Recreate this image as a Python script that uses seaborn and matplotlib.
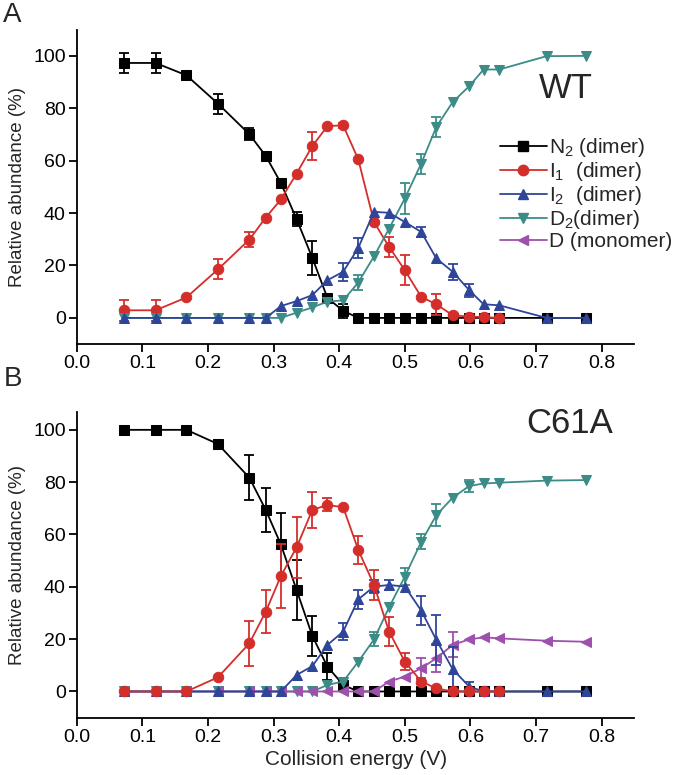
import numpy as np
import pandas as pd
import seaborn as sns
import matplotlib.pyplot as plt
from matplotlib.lines import Line2D

# collision energy (V)
energy = [0.072, 0.120, 0.167, 0.215, 0.263, 0.288, 0.311, 0.335, 0.359, 0.382, 0.406, 0.429,
          0.453, 0.476, 0.500, 0.525, 0.548, 0.573, 0.598, 0.620, 0.644, 0.716, 0.776]
energy_i1 = energy[:21]

# panel A - WT
wt_n2 = [97.3, 97.3, 92.6, 81.8, 70.1, 61.8, 51.5, 37.7, 22.9, 7.6, 2.7, 0, 0, 0, 0, 0, 0, 0, 0, 0, 0, 0, 0]
wt_n2_err = [3.9, 3.9, 0.8, 3.8, 2.2, 0.8, 1.5, 2.8, 6.5, 1.0, 2.6, 0, 0, 0, 0, 0, 0, 0, 0, 0, 0, 0, 0]
wt_i1 = [2.9, 2.9, 7.8, 18.5, 29.9, 38.3, 45.2, 55.1, 65.6, 73.2, 73.5, 60.5, 36.6, 27.1, 18.2, 8.0,
         5.2, 1.0, 0.5, 0.3, 0]
wt_i1_err = [4.1, 4.1, 0, 3.8, 2.7, 0, 0, 0, 5.4, 0, 1.0, 0, 0, 3.9, 5.8, 0, 4.1, 0, 0, 0, 0]
wt_i2 = [0, 0, 0, 0, 0, 0, 4.5, 6.4, 8.7, 14.4, 17.6, 26.7, 40.5, 40.1, 36.6, 32.8, 22.7, 17.6,
         10.6, 5.2, 4.8, 0, 0]
wt_i2_err = [0, 0, 0, 0, 0, 0, 0, 0, 0, 0, 3.5, 3.8, 0, 0, 0, 2.0, 0, 3.0, 2.5, 0, 0, 0, 0]
wt_d2 = [0, 0, 0, 0, 0, 0, 0, 2.0, 4.0, 6.2, 6.7, 13.5, 23.5, 34.1, 45.6, 58.9, 72.9, 82.4, 88.4,
         94.8, 94.8, 99.9, 100]
wt_d2_err = [0, 0, 0, 0, 0, 0, 0, 0, 0, 0, 0, 3.0, 0, 0, 6.0, 3.8, 3.8, 0, 0, 0, 0, 0, 0]

# panel B - C61A
mut_n2 = [100, 100, 100, 94.6, 81.7, 69.4, 56.2, 38.8, 21.2, 9.5, 2.5, 0, 0, 0, 0, 0, 0, 0, 0, 0, 0, 0, 0]
mut_n2_err = [0, 0, 0, 0, 8.5, 8.3, 12.0, 11.6, 7.8, 5.2, 0, 0, 0, 0, 0, 0, 0, 0, 0, 0, 0, 0, 0]
mut_i1 = [0, 0, 0, 5.4, 18.4, 30.5, 44.1, 55.1, 69.4, 71.3, 70.4, 54.1, 40.7, 22.9, 11.4, 3.8,
          1.2, 0, 0, 0, 0]
mut_i1_err = [0, 0, 0, 0, 8.7, 8.2, 12.1, 11.6, 7.0, 2.5, 0, 5.4, 5.7, 5.4, 3.2, 1.0, 0, 0, 0, 0, 0]
mut_i2 = [0, 0, 0, 0, 0, 0, 0, 6.3, 9.7, 17.8, 22.9, 35.2, 40.1, 40.7, 40.1, 30.9, 19.7, 8.5, 1.9,
          0, 0, 0, 0]
mut_i2_err = [0, 0, 0, 0, 0, 0, 0, 0, 0, 0, 3.2, 3.7, 2.5, 2.0, 0, 5.5, 9.4, 8.6, 1.9, 0, 0, 0, 0]
mut_d2 = [0, 0, 0, 0, 0, 0, 0, 0, 0, 2.5, 3.8, 11.4, 19.9, 32.2, 43.9, 57.2, 67.4, 74.1, 78.5,
          79.5, 79.8, 80.6, 80.8]
mut_d2_err = [0, 0, 0, 0, 0, 0, 0, 0, 0, 0, 0, 0, 2.7, 0, 3.2, 2.9, 4.1, 0, 2.2, 0, 0, 0, 0]
mut_d = [0, 0, 0, 0, 0, 0, 0, 0, 0, 0, 0, 0, 0, 3.8, 5.7, 8.9, 12.7, 17.8, 19.9, 20.7, 20.3, 19.4, 19.0]
mut_d_err = [0, 0, 0, 0, 0, 0, 0, 0, 0, 0, 0, 0, 0, 0, 0, 3.8, 5.4, 4.8, 0, 0, 0, 0, 0]

labels = ["N$_2$ (dimer)", "I$_1$  (dimer)", "I$_2$  (dimer)", "D$_2$(dimer)", "D (monomer)"]
colors = ["#000000", "#d42e2b", "#2f4599", "#3b8c87", "#9e50ad"]
markers = ["s", "o", "^", "v", "<"]
msizes = [6.5, 7.5, 7.5, 7.5, 7.5]

sns.set_style("ticks")
plt.rcParams["font.family"] = ["Liberation Sans", "DejaVu Sans"]
plt.rcParams["mathtext.fontset"] = "custom"
plt.rcParams["mathtext.rm"] = "Liberation Sans"
plt.rcParams["mathtext.it"] = "Liberation Sans:italic"

fig = plt.figure(figsize=(6.8, 7.75), dpi=100)
axA = fig.add_axes([0.113, 0.556, 0.820, 0.4057])
axB = fig.add_axes([0.113, 0.074, 0.820, 0.395])


def draw(ax, x, y, err, k, z):
    df = pd.DataFrame({"x": x, "y": y})
    sns.lineplot(data=df, x="x", y="y", color=colors[k], marker=markers[k], markersize=msizes[k],
                 markeredgecolor=colors[k], linewidth=1.3, ax=ax, zorder=z)
    e = np.array(err)
    m = e > 0
    ax.errorbar(np.array(x)[m], np.array(y)[m], yerr=e[m], fmt="none", ecolor=colors[k],
                elinewidth=1.3, capsize=3.3, capthick=1.3, zorder=z)


draw(axA, energy, wt_n2, wt_n2_err, 0, 2)
draw(axA, energy_i1, wt_i1, wt_i1_err, 1, 3)
draw(axA, energy, wt_d2, wt_d2_err, 3, 4)
draw(axA, energy, wt_i2, wt_i2_err, 2, 5)

draw(axB, energy, mut_n2, mut_n2_err, 0, 2)
draw(axB, energy, mut_d2, mut_d2_err, 3, 3)
draw(axB, energy, mut_d, mut_d_err, 4, 4)
draw(axB, energy, mut_i2, mut_i2_err, 2, 5)
draw(axB, energy_i1, mut_i1, mut_i1_err, 1, 6)

for ax, top in [(axA, 110), (axB, 107)]:
    ax.set_xlim(0, 0.85)
    ax.set_ylim(-10, top)
    ax.set_xticks(np.arange(0, 0.81, 0.1))
    ax.set_xticklabels([f"{v:.1f}" for v in np.arange(0, 0.81, 0.1)])
    ax.set_yticks(range(0, 101, 20))
    ax.tick_params(labelsize=14, length=6, width=1.3, pad=2, colors="black")
    for s in ["left", "bottom"]:
        ax.spines[s].set_linewidth(1.3)
        ax.spines[s].set_color("black")
    sns.despine(ax=ax)
    ax.set_ylabel("Relative abundance (%)", fontsize=13.5, labelpad=5)
    ax.set_xlabel("")

axB.set_xlabel("Collision energy (V)", fontsize=15, labelpad=3)

axA.text(0.787, 84, "WT", fontsize=25, ha="right", va="baseline")
axB.text(0.817, 98.7, "C61A", fontsize=25, ha="right", va="baseline")

handles = [Line2D([], [], color=colors[k], marker=markers[k], markersize=msizes[k], linewidth=1.3)
           for k in range(5)]
axA.legend(handles, labels, loc="upper left", bbox_to_anchor=(0.759, 0.662), frameon=False,
           fontsize=15, handlelength=2.25, handletextpad=0.1, labelspacing=0.05,
           borderpad=0, borderaxespad=0)

fig.text(0.005, 0.998, "A", fontsize=20, ha="left", va="top")
fig.text(0.005, 0.528, "B", fontsize=20, ha="left", va="top")

fig.savefig("out.png", dpi=100)
